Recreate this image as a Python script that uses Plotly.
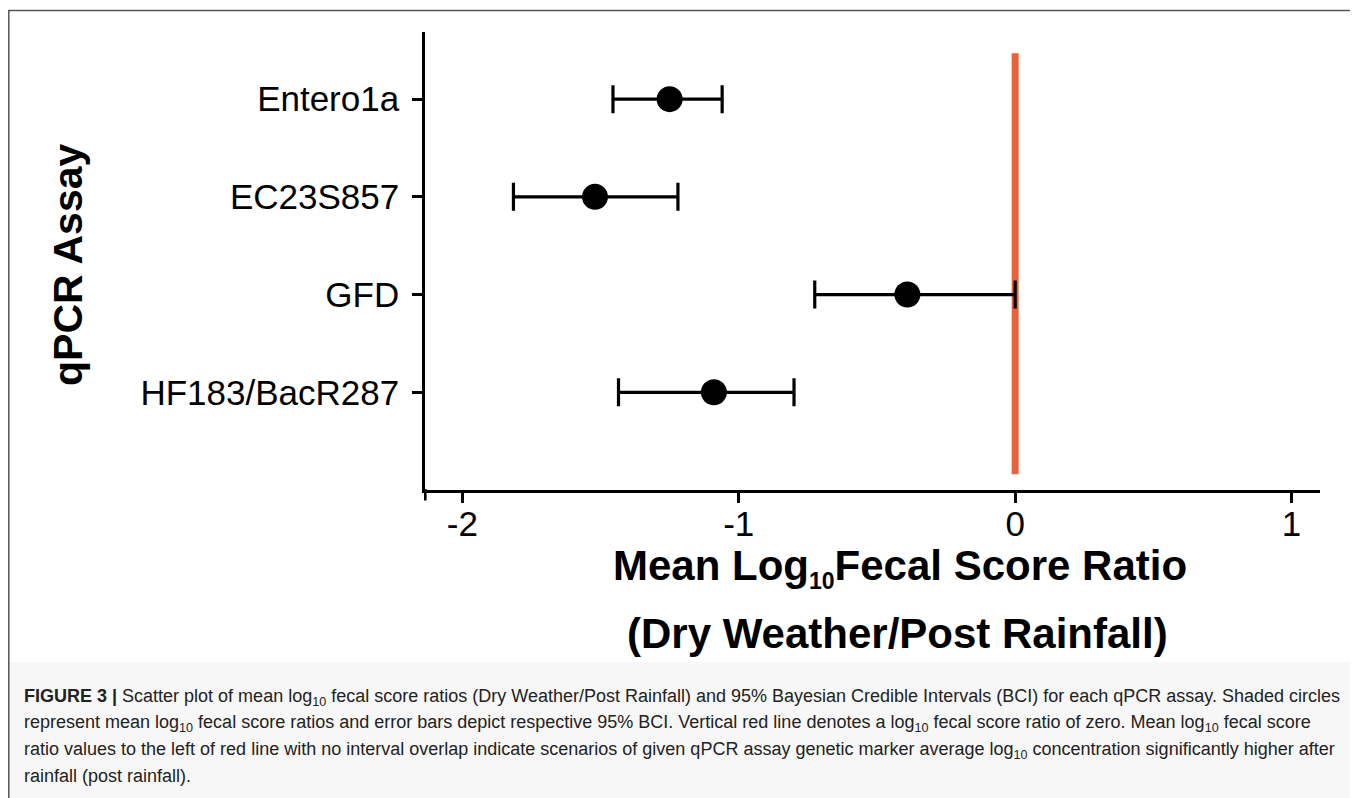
import plotly.graph_objects as go

# ---- data ----
assays = ["Entero1a", "EC23S857", "GFD", "HF183/BacR287"]
assay_pos = [4, 3, 2, 1]
mean_ratio = [-1.25, -1.52, -0.39, -1.09]
bci_low = [-1.455, -1.815, -0.725, -1.435]
bci_high = [-1.06, -1.22, 0.0, -0.80]
x_tick_vals = [-2, -1, 0, 1]
x_tick_text = ["-2", "-1", "0", "1"]
zero_line_x = [0, 0]
zero_line_y = [0.16, 4.47]

err_plus = [h - m for h, m in zip(bci_high, mean_ratio)]
err_minus = [m - l for m, l in zip(mean_ratio, bci_low)]

# page has an 8px body margin, so the figure starts at (8, 8) of the window
OFF = 8
W, H = 1358 - OFF, 798 - OFF


def px(x):
    return (x - OFF) / W


def py(y):
    return 1 - (y - OFF) / H


fig = go.Figure()

fig.add_trace(go.Scatter(
    x=zero_line_x, y=zero_line_y, mode="lines",
    line=dict(color="#E8623D", width=7), hoverinfo="skip", showlegend=False,
))

fig.add_trace(go.Scatter(
    x=mean_ratio, y=assay_pos, mode="markers",
    marker=dict(color="black", size=26),
    error_x=dict(type="data", symmetric=False, array=err_plus, arrayminus=err_minus,
                 color="black", thickness=3.2, width=14),
    showlegend=False,
))

axis_font = dict(family="Liberation Sans, Arial, sans-serif", size=35, color="black")

fig.update_layout(
    width=W, height=H,
    margin=dict(l=0, r=0, t=0, b=0),
    paper_bgcolor="white", plot_bgcolor="white",
    showlegend=False,
    xaxis=dict(
        domain=[px(425), px(1319.5)],
        range=[-2.135, 1.101],
        tickvals=x_tick_vals, ticktext=x_tick_text,
        showgrid=False, zeroline=False,
        showline=True, linecolor="black", linewidth=2.6,
        ticks="outside", ticklen=10, tickwidth=2.6, tickcolor="black",
        tickfont=axis_font,
        ticklabelstandoff=-9,
        anchor="y",
    ),
    yaxis=dict(
        domain=[py(490), py(31.7)],
        range=[0, 4.69],
        tickvals=assay_pos, ticktext=assays,
        showgrid=False, zeroline=False,
        showline=True, linecolor="black", linewidth=2.6,
        ticks="outside", ticklen=10, tickwidth=2.6, tickcolor="black",
        tickfont=axis_font,
        ticklabelstandoff=6,
        anchor="x",
    ),
)

shapes = [
    # caption band
    dict(type="rect", xref="paper", yref="paper", x0=px(8), x1=px(1355), y0=py(800), y1=py(662),
         fillcolor="#f7f7f7", line=dict(width=0), layer="below"),
    # figure frame
    dict(type="rect", xref="paper", yref="paper", x0=px(8.8), x1=px(1355), y0=py(805), y1=py(10.5),
         line=dict(color="#555555", width=1.5), fillcolor="rgba(0,0,0,0)"),
    # y axis extension below x axis
    dict(type="line", xref="paper", yref="paper", x0=px(425.3), x1=px(425.3), y0=py(489), y1=py(500.5),
         line=dict(color="black", width=2.6)),
]
fig.update_layout(shapes=shapes)

title_font = dict(family="Liberation Sans, Arial, sans-serif", size=42, color="black")
ann = [
    dict(text="<b>Mean Log<sub><span style='font-size:23px'>10</span></sub>Fecal Score Ratio</b>",
         x=px(900), y=py(568),
         xref="paper", yref="paper", showarrow=False, font=title_font, xanchor="center", yanchor="middle"),
    dict(text="<b>(Dry Weather/Post Rainfall)</b>", x=px(898), y=py(633),
         xref="paper", yref="paper", showarrow=False, font=title_font, xanchor="center", yanchor="middle"),
    dict(text="<b>qPCR Assay</b>", x=px(68), y=py(265), textangle=-90,
         xref="paper", yref="paper", showarrow=False,
         font=dict(family="Liberation Sans, Arial, sans-serif", size=41, color="black"),
         xanchor="center", yanchor="middle"),
]

cap_font = dict(family="Liberation Sans, Arial, sans-serif", size=18, color="#222222")
caption_lines = [
    "<b>FIGURE 3 |</b> Scatter plot of mean log<sub>10</sub> fecal score ratios (Dry Weather/Post Rainfall) and 95% Bayesian Credible Intervals (BCI) for each qPCR assay. Shaded circles",
    "represent mean log<sub>10</sub> fecal score ratios and error bars depict respective 95% BCI. Vertical red line denotes a log<sub>10</sub> fecal score ratio of zero. Mean log<sub>10</sub> fecal score",
    "ratio values to the left of red line with no interval overlap indicate scenarios of given qPCR assay genetic marker average log<sub>10</sub> concentration significantly higher after",
    "rainfall (post rainfall).",
]
cap_y = [697, 723, 750, 776]
for line, yy in zip(caption_lines, cap_y):
    ann.append(dict(text=line, x=px(22), y=py(yy), xref="paper", yref="paper", showarrow=False,
                    font=cap_font, xanchor="left", yanchor="middle", align="left"))

fig.update_layout(annotations=ann)

fig.write_html("out.html")
